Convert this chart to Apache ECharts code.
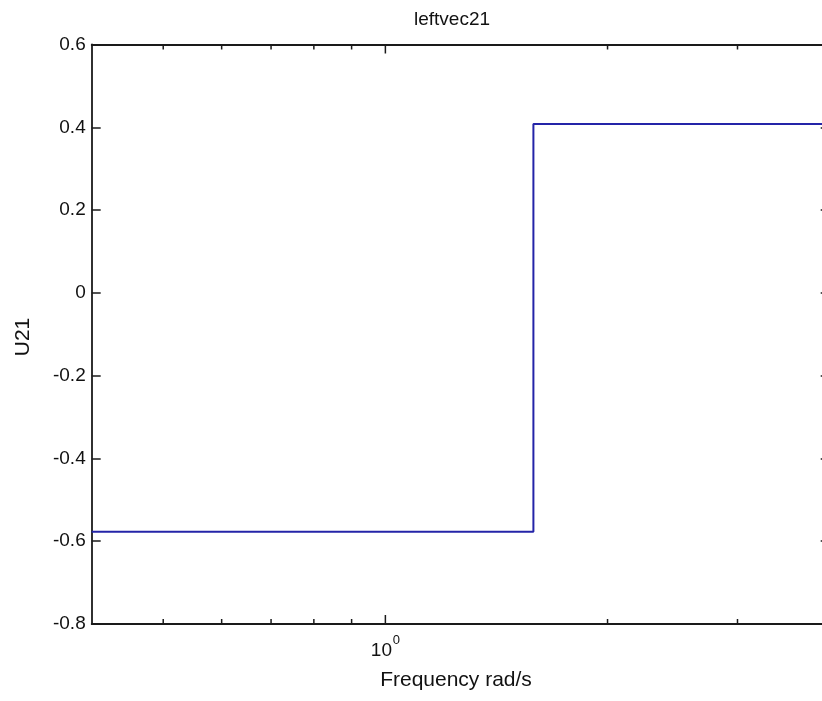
<!DOCTYPE html>
<html>
<head>
<meta charset="utf-8">
<script src="https://cdn.jsdelivr.net/npm/echarts@6/dist/echarts.min.js"></script>
<style>
html,body{margin:0;padding:0;background:#fff;}
#chart{width:822px;height:701px;}
</style>
</head>
<body>
<div id="chart"></div>
<script>
// ---- data ----
var titleText = 'leftvec21';
var xLabelText = 'Frequency rad/s';
var yLabelText = 'U21';
var freq = [0.4, 1.587, 1.587, 4];
var u21 = [-0.577, -0.577, 0.408, 0.408];
var xMinorTicks = [0.5, 0.6, 0.7, 0.8, 0.9, 2, 3];
var xMajorTicks = [1];
var xMajorLabels = [['10', '0']];
var yTickLabels = ['-0.8', '-0.6', '-0.4', '-0.2', '0', '0.2', '0.4', '0.6'];

var FONT = 'Liberation Sans, Arial, sans-serif';
var AX = '#1a1a1a';
var xMin = 0.4, xMax = 4, yMin = -0.8, yMax = 0.6;

var chart = echarts.init(document.getElementById('chart'), null, {renderer: 'canvas'});

function tickItem(len, withLabel) {
  return function (params, api) {
    var x = api.value(0);
    var pb = api.coord([x, yMin]);
    var pt = api.coord([x, yMax]);
    var style = {stroke: AX, lineWidth: 1.5};
    var children = [
      {type: 'line', shape: {x1: pb[0], y1: pb[1], x2: pb[0], y2: pb[1] - len}, style: style},
      {type: 'line', shape: {x1: pt[0], y1: pt[1], x2: pt[0], y2: pt[1] + len}, style: style}
    ];
    if (withLabel) {
      var lab = xMajorLabels[params.dataIndex];
      children.push({type: 'text', x: pb[0] - 4, y: pb[1] + 27,
        style: {text: lab[0], fontSize: 19, fontFamily: FONT, fill: '#111', align: 'center', verticalAlign: 'middle'}});
      children.push({type: 'text', x: pb[0] + 11, y: pb[1] + 16,
        style: {text: lab[1], fontSize: 13, fontFamily: FONT, fill: '#111', align: 'center', verticalAlign: 'middle'}});
    }
    return {type: 'group', children: children};
  };
}

var yAxisCommon = {
  type: 'value', min: yMin, max: yMax, interval: 0.2,
  axisLine: {show: true, lineStyle: {color: AX, width: 1.8}},
  axisTick: {show: true, inside: true, length: 9, lineStyle: {color: AX, width: 1.5}},
  splitLine: {show: false}
};

var option = {
  backgroundColor: '#fff',
  animation: false,
  grid: {left: 91.7, width: 738, top: 44.5, height: 579.5, containLabel: false, outerBoundsMode: 'none'},
  xAxis: [
    {type: 'log', logBase: 10, min: xMin, max: xMax, position: 'bottom',
      axisLine: {show: true, onZero: false, lineStyle: {color: AX, width: 1.8}},
      axisTick: {show: false}, axisLabel: {show: false}, splitLine: {show: false}},
    {type: 'log', logBase: 10, min: xMin, max: xMax, position: 'top',
      axisLine: {show: true, onZero: false, lineStyle: {color: AX, width: 1.8}},
      axisTick: {show: false}, axisLabel: {show: false}, splitLine: {show: false}}
  ],
  yAxis: [
    Object.assign({}, yAxisCommon, {position: 'left',
      axisLabel: {show: true, margin: 6, fontSize: 19, fontFamily: FONT, color: '#111',
        formatter: function (v) { var i = Math.round((v - yMin) / 0.2); return yTickLabels[i]; }}}),
    Object.assign({}, yAxisCommon, {position: 'right', axisLabel: {show: false}})
  ],
  graphic: [
    {type: 'text', x: 452, y: 20, style: {text: titleText, fontSize: 19, fontFamily: FONT, fill: '#111', align: 'center', verticalAlign: 'middle'}},
    {type: 'text', x: 456, y: 680, style: {text: xLabelText, fontSize: 21, fontFamily: FONT, fill: '#111', align: 'center', verticalAlign: 'middle'}},
    {type: 'text', x: 23, y: 337, rotation: Math.PI / 2, style: {text: yLabelText, fontSize: 21, fontFamily: FONT, fill: '#111', align: 'center', verticalAlign: 'middle'}}
  ],
  series: [
    {type: 'line', xAxisIndex: 0, yAxisIndex: 0, data: freq.map(function (f, i) { return [f, u21[i]]; }),
      symbol: 'none', lineStyle: {color: '#2424a8', width: 2}, silent: true, z: 3},
    {type: 'custom', xAxisIndex: 0, yAxisIndex: 0, data: xMinorTicks.map(function (v) { return [v]; }),
      renderItem: tickItem(5, false), silent: true, z: 4},
    {type: 'custom', xAxisIndex: 0, yAxisIndex: 0, data: xMajorTicks.map(function (v) { return [v]; }),
      renderItem: tickItem(9, true), silent: true, z: 4}
  ]
};
chart.setOption(option);
</script>
</body>
</html>
